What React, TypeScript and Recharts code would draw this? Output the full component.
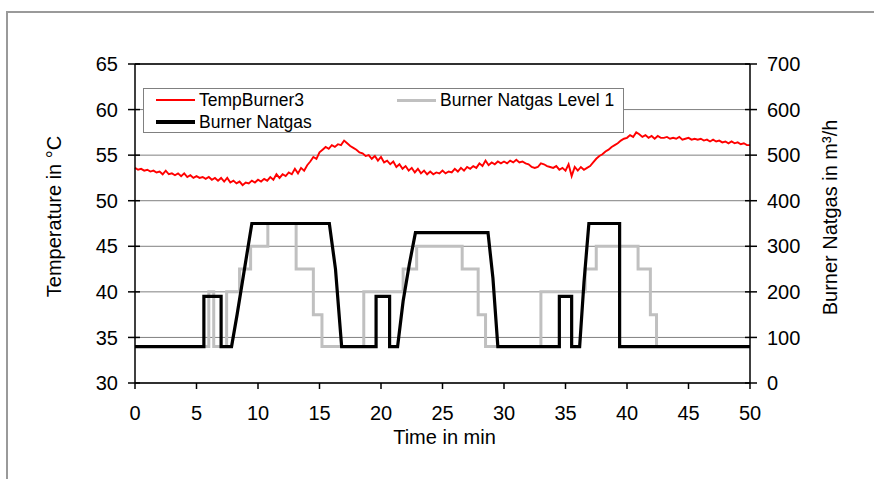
import React from "react";
import {
  ComposedChart,
  Line,
  XAxis,
  YAxis,
  CartesianGrid,
  ReferenceLine,
} from "recharts";

// TempBurner3, sampled every 0.25 min from 0 to 50 min (°C)
const tempStep = 0.25;
const tempValues = [
  53.6, 53.4, 53.5, 53.3, 53.4, 53.2, 53.3, 53.1,
  53.2, 52.9, 53.3, 52.9, 53.0, 52.8, 53.0, 52.7,
  53.0, 52.6, 52.8, 52.5, 52.7, 52.5, 52.6, 52.4,
  52.6, 52.3, 52.5, 52.2, 52.5, 52.1, 52.5, 52.0,
  52.2, 51.9, 52.1, 51.7, 52.0, 51.9, 52.2, 52.0,
  52.3, 52.1, 52.4, 52.2, 52.6, 52.3, 52.9, 52.5,
  52.9, 52.7, 53.1, 52.9, 53.5, 53.0, 53.6, 53.3,
  53.9, 54.3, 54.8, 54.6, 55.3, 55.6, 55.9, 55.7,
  56.1, 55.9, 56.2, 56.1, 56.6, 56.3, 56.0, 55.8,
  55.6, 55.3, 55.2, 54.9, 55.0, 54.6, 54.9, 54.4,
  54.8, 54.2, 54.4, 54.0, 54.3, 53.7, 54.0, 53.5,
  53.8, 53.3, 53.6, 53.1, 53.5, 53.0, 53.3, 52.9,
  53.2, 52.9, 53.1, 53.0, 53.3, 53.0, 53.2, 53.1,
  53.5, 53.2, 53.6, 53.3, 53.7, 53.5, 53.8, 53.6,
  54.1, 53.8, 54.4, 53.9, 54.2, 54.0, 54.3, 54.1,
  54.3, 54.1, 54.4, 54.2, 54.5, 54.2, 54.3, 54.1,
  54.0, 53.7, 53.6, 53.7, 54.1, 54.0, 53.8, 53.7,
  53.6, 53.8, 53.4, 53.6, 53.3, 54.0, 52.7, 53.7,
  53.3, 53.7, 53.4, 53.6, 53.8, 54.2, 54.6, 54.9,
  55.1, 55.4, 55.6, 55.9, 56.1, 56.3, 56.6, 56.8,
  56.9, 57.2, 57.0, 57.5, 57.3, 57.0, 57.2, 56.9,
  57.1, 56.8, 57.1, 56.9, 56.9, 57.0, 56.8, 56.9,
  56.8, 57.0, 56.7, 56.8, 56.9, 56.7, 56.8, 56.7,
  56.8, 56.6, 56.7, 56.5, 56.7, 56.5, 56.6, 56.4,
  56.5, 56.3, 56.5, 56.3, 56.4, 56.2, 56.3, 56.1,
  56.1,
];

// Burner Natgas (m³/h), break points
const natgasTimes = [
  0, 5.6, 5.6, 7.0, 7.0, 7.85, 8.3, 8.9, 9.5, 15.8, 16.3, 16.8,
  19.6, 19.6, 20.7, 20.7, 21.35, 21.8, 22.3, 22.8, 28.7, 29.1, 29.5,
  34.5, 34.5, 35.5, 35.5, 36.15, 36.5, 36.9, 39.4, 39.4, 50,
];
const natgasValues = [
  80, 80, 190, 190, 80, 80, 150, 250, 350, 350, 250, 80,
  80, 190, 190, 80, 80, 180, 260, 330, 330, 230, 80,
  80, 190, 190, 80, 80, 220, 350, 350, 80, 80,
];

// Burner Natgas Level 1 (m³/h), step changes
const levelTimes = [
  0, 6.0, 6.4, 7.45, 8.5, 9.4, 10.8, 13.1, 14.5, 15.2, 18.6, 21.8,
  22.9, 26.6, 27.9, 28.5, 33.0, 36.6, 37.5, 40.9, 41.9, 42.4, 50,
];
const levelValues = [
  80, 200, 80, 200, 250, 300, 350, 250, 150, 80, 200, 250,
  300, 250, 150, 80, 200, 250, 300, 250, 150, 80, 80,
];

const timeTicks = [0, 5, 10, 15, 20, 25, 30, 35, 40, 45, 50];
const tempTicks = [30, 35, 40, 45, 50, 55, 60, 65];
const flowTicks = [0, 100, 200, 300, 400, 500, 600, 700];

const seriesNames = ["TempBurner3", "Burner Natgas Level 1", "Burner Natgas"];
const seriesColors = ["#ff0000", "#c0c0c0", "#000000"];

const tempData = tempValues.map((v, i) => ({ t: i * tempStep, v }));
const natgasData = natgasTimes.map((t, i) => ({ t, v: natgasValues[i] }));
const levelData = levelTimes.map((t, i) => ({ t, v: levelValues[i] }));

const FONT = "'Liberation Sans', Arial, sans-serif";
const FS = 20;

const LeftTick = ({ x, y, payload }) => (
  <g>
    <line x1={x - 7} x2={x + 5} y1={y} y2={y} stroke="#000" strokeWidth={1.5} />
    <text x={x - 17} y={y} dy="0.36em" textAnchor="end" fontSize={FS} fontFamily={FONT} fill="#000">
      {payload.value}
    </text>
  </g>
);

const RightTick = ({ x, y, payload }) => (
  <g>
    <line x1={x - 5} x2={x + 7} y1={y} y2={y} stroke="#000" strokeWidth={1.5} />
    <text x={x + 17} y={y} dy="0.36em" textAnchor="start" fontSize={FS} fontFamily={FONT} fill="#000">
      {payload.value}
    </text>
  </g>
);

const BottomTick = ({ x, y, payload }) => (
  <g>
    <line x1={x} x2={x} y1={y} y2={y + 6} stroke="#000" strokeWidth={1.5} />
    <text x={x} y={y + 37} textAnchor="middle" fontSize={FS} fontFamily={FONT} fill="#000">
      {payload.value}
    </text>
  </g>
);

const leftTitle = ({ viewBox }) => {
  const cx = viewBox.x + 39;
  const cy = viewBox.y + viewBox.height / 2 - 7;
  return (
    <text x={cx} y={cy} transform={`rotate(-90, ${cx}, ${cy})`} textAnchor="middle" dominantBaseline="central" fontSize={FS} fontFamily={FONT} fill="#000">
      Temperature in °C
    </text>
  );
};

const rightTitle = ({ viewBox }) => {
  const cx = viewBox.x + 80;
  const cy = viewBox.y + viewBox.height / 2 - 6;
  return (
    <text x={cx} y={cy} transform={`rotate(-90, ${cx}, ${cy})`} textAnchor="middle" dominantBaseline="central" fontSize={FS} fontFamily={FONT} fill="#000">
      Burner Natgas in m³/h
    </text>
  );
};

const bottomTitle = ({ viewBox }) => (
  <text x={viewBox.x + viewBox.width / 2 + 2} y={viewBox.y + 61} textAnchor="middle" fontSize={FS} fontFamily={FONT} fill="#000">
    Time in min
  </text>
);

function LegendBox() {
  const item = (i, left, top, width) => (
    <div key={i} style={{ position: "absolute", left, top, height: 20, display: "flex", alignItems: "center" }}>
      <div style={{ width: 39, height: width, background: seriesColors[i], marginRight: 4 }} />
      <span style={{ fontSize: 17.5, lineHeight: "20px", whiteSpace: "nowrap" }}>{seriesNames[i]}</span>
    </div>
  );
  return (
    <div
      style={{
        position: "absolute",
        left: 143,
        top: 88,
        width: 481,
        height: 45,
        border: "1px solid #808080",
        boxSizing: "border-box",
        background: "#fff",
      }}
    >
      {item(0, 12, 1, 2)}
      {item(1, 253, 1, 3)}
      {item(2, 12, 23, 4)}
    </div>
  );
}

export default function App() {
  return (
    <div
      style={{
        position: "absolute",
        left: 0,
        top: 0,
        width: 874,
        height: 479,
        background: "#fff",
        fontFamily: FONT,
        overflow: "hidden",
      }}
    >
      <div
        style={{
          position: "absolute",
          left: 6,
          top: 11,
          width: 900,
          height: 500,
          borderTop: "2px solid #9a9a9a",
          borderLeft: "2px solid #9a9a9a",
        }}
      />
      <ComposedChart width={874} height={479} margin={{ top: 64, right: 4, bottom: 26, left: 15 }}>
        <CartesianGrid yAxisId="left" vertical={false} stroke="#808080" strokeWidth={1} />
        <XAxis
          dataKey="t"
          type="number"
          domain={[0, 50]}
          ticks={timeTicks}
          interval={0}
          height={70}
          tickSize={0}
          tickMargin={0}
          tickLine={false}
          axisLine={{ stroke: "#000", strokeWidth: 1.5 }}
          tick={BottomTick}
          label={bottomTitle}
          allowDuplicatedCategory={false}
        />
        <YAxis
          yAxisId="left"
          orientation="left"
          domain={[30, 65]}
          ticks={tempTicks}
          interval={0}
          width={120}
          tickSize={0}
          tickMargin={0}
          tickLine={false}
          axisLine={{ stroke: "#000", strokeWidth: 1.5 }}
          tick={LeftTick}
          label={leftTitle}
        />
        <YAxis
          yAxisId="right"
          orientation="right"
          domain={[0, 700]}
          ticks={flowTicks}
          interval={0}
          width={120}
          tickSize={0}
          tickMargin={0}
          tickLine={false}
          axisLine={{ stroke: "#000", strokeWidth: 1.5 }}
          tick={RightTick}
          label={rightTitle}
        />
        <ReferenceLine yAxisId="left" y={65} stroke="#000" strokeWidth={1.5} />
        <Line
          yAxisId="right"
          data={levelData}
          dataKey="v"
          type="stepAfter"
          stroke={seriesColors[1]}
          strokeWidth={3}
          dot={false}
          activeDot={false}
          isAnimationActive={false}
          name={seriesNames[1]}
        />
        <Line
          yAxisId="left"
          data={tempData}
          dataKey="v"
          type="linear"
          stroke={seriesColors[0]}
          strokeWidth={1.9}
          dot={false}
          activeDot={false}
          isAnimationActive={false}
          name={seriesNames[0]}
        />
        <Line
          yAxisId="right"
          data={natgasData}
          dataKey="v"
          type="linear"
          stroke={seriesColors[2]}
          strokeWidth={3.2}
          dot={false}
          activeDot={false}
          isAnimationActive={false}
          name={seriesNames[2]}
        />
      </ComposedChart>
      <LegendBox />
    </div>
  );
}
